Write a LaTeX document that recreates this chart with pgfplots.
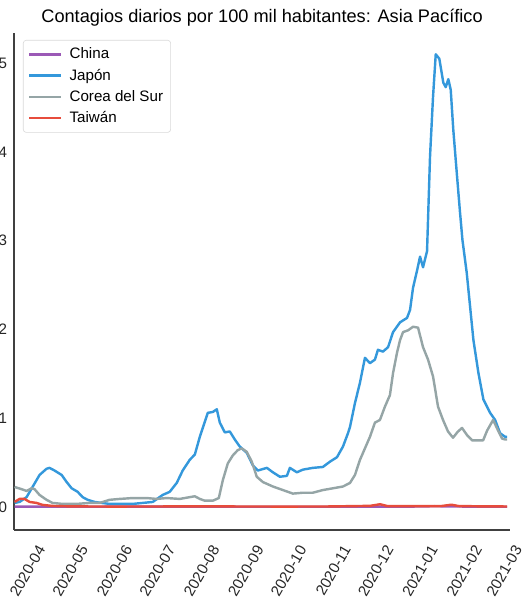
\documentclass[border=0pt]{standalone}
\usepackage{fontspec}
\setmainfont{Liberation Sans}
\usepackage{pgfplots}
\pgfplotsset{compat=1.18}
\definecolor{cChina}{HTML}{9B59B6}
\definecolor{cJapan}{HTML}{3498DB}
\definecolor{cKorea}{HTML}{95A5A6}
\definecolor{cTaiwan}{HTML}{E74C3C}
\begin{document}
\begin{tikzpicture}
\begin{axis}[
  scale only axis,
  width=327.4pt, height=328pt,
  xmin=-9.5, xmax=338.1,
  ymin=-0.26, ymax=5.34,
  axis x line*=bottom, axis y line*=left,
  axis line style={black!75, line width=0.8pt},
  major tick length=0pt,
  xtick={0,30,61,91,122,153,183,214,244,275,306,334},
  xticklabels={2020-04,2020-05,2020-06,2020-07,2020-08,2020-09,2020-10,2020-11,2020-12,2021-01,2021-02,2021-03},
  ytick={0,1,2,3,4,5},
  /pgf/number format/assume math mode=true,
  tick label style={font=\fontsize{10}{12}\selectfont, text=black!85},
  xticklabel style={inner sep=0pt, xshift=9.2pt, yshift=-11pt, rotate=60, anchor=east},
  yticklabel style={xshift=-1pt},
  title={Contagios diarios por 100 mil habitantes: Asia Pacífico},
  title style={font=\fontsize{12}{14}\selectfont, at={(0.5,1)}, anchor=south, yshift=-5pt},
  legend style={at={(0,1)}, anchor=north west, xshift=5.9pt, yshift=-4.6pt,
    font=\fontsize{10}{12}\selectfont, draw=black!15, rounded corners=2pt,
    row sep=1.2pt, inner xsep=3pt, inner ysep=3pt},
  legend cell align=left,
  legend image code/.code={\draw[#1, line width=1.6pt] (-1.5pt,0pt) -- (19.5pt,0pt);},
  every axis plot/.append style={line width=1.6pt, line join=round},
  clip=true,
]
\addplot[cChina] coordinates {
(-9.1,0.004) (10,0.003) (40,0.002) (80,0.003) (120,0.003) (160,0.002) (200,0.002)
(240,0.002) (270,0.004) (285,0.008) (300,0.005) (320,0.002) (336,0.002)
};
\addlegendentry{\hspace{3pt}China}
\addplot[cJapan] coordinates {
(-9.1,0.045) (-5.6,0.056) (-0.7,0.11) (3.5,0.225) (8.4,0.36) (13.3,0.43) (15.4,0.44)
(18.9,0.41) (23.9,0.36) (27.4,0.28) (30.9,0.21) (35.1,0.17) (38.6,0.11) (42.1,0.08)
(47.0,0.056) (51.9,0.045) (57.5,0.034) (64.5,0.034) (73.7,0.034) (80.7,0.045)
(87.7,0.056) (94.7,0.135) (99.6,0.17) (104.5,0.27) (108.7,0.41) (113.6,0.53)
(117.2,0.59) (120.7,0.79) (124.2,0.96) (126.3,1.06) (129.8,1.07) (132.6,1.10)
(134.7,0.95) (138.2,0.84) (141.7,0.85) (145.2,0.76) (148.7,0.68) (153.6,0.61)
(157.8,0.47) (161.3,0.41) (167.7,0.44) (171.9,0.39) (176.8,0.34) (181.7,0.35)
(183.8,0.44) (188.7,0.39) (192.9,0.42) (199.9,0.44) (206.9,0.45) (211.9,0.51)
(216.8,0.56) (221.0,0.68) (224.5,0.83) (225.9,0.90) (229.4,1.17) (232.9,1.40)
(236.4,1.68) (239.9,1.62) (243.4,1.66) (245.5,1.77) (249.0,1.75) (252.6,1.80)
(256.1,1.97) (261.0,2.08) (265.9,2.13) (268.0,2.22) (270.1,2.47) (273.0,2.67)
(275.0,2.82) (277.1,2.70) (279.9,2.88) (282.0,3.95) (284.1,4.62) (286.0,5.10)
(288.5,5.05) (291.3,4.78) (293.0,4.73) (294.8,4.82) (296.5,4.70) (298.3,4.25)
(300.7,3.77) (303.0,3.32) (304.7,3.01) (307.7,2.64) (312.4,1.88) (315.9,1.51)
(319.4,1.21) (324.1,1.06) (327.6,0.98) (331.1,0.83) (334.6,0.79) (336,0.79)
};
\addlegendentry{\hspace{3pt}Japón}
\addplot[cKorea] coordinates {
(-9.1,0.225) (-4.2,0.20) (-0.7,0.18) (2.8,0.21) (4.9,0.20) (8.4,0.135) (13.3,0.08)
(17.5,0.045) (24.6,0.034) (34.4,0.034) (43.5,0.045) (50.5,0.045) (57.5,0.08)
(64.5,0.09) (73.7,0.10) (83.5,0.10) (90.5,0.09) (97.5,0.10) (106.6,0.09)
(113.6,0.11) (117.2,0.12) (120.7,0.09) (124.2,0.07) (129.8,0.07) (134.0,0.10)
(136.8,0.30) (140.3,0.49) (143.8,0.58) (147.3,0.64) (150.1,0.66) (153.6,0.62)
(157.1,0.51) (160.6,0.34) (164.9,0.28) (171.9,0.23) (178.9,0.19) (185.9,0.15)
(192.9,0.16) (199.9,0.16) (206.9,0.19) (214.0,0.21) (221.0,0.23) (225.9,0.27)
(229.4,0.36) (232.9,0.53) (236.4,0.66) (239.9,0.79) (243.4,0.95) (246.9,0.98)
(250.4,1.13) (253.9,1.26) (256.1,1.51) (258.9,1.74) (261.0,1.88) (263.1,1.97)
(266.6,1.99) (270.1,2.03) (273.6,2.02) (277.1,1.80) (280.6,1.66) (284.1,1.47)
(287.6,1.13) (291.1,0.98) (294.6,0.85) (298.1,0.78) (301.6,0.85) (304.4,0.89)
(307.9,0.81) (311.5,0.75) (315.0,0.75) (319.2,0.75) (322.0,0.86) (326.2,0.98)
(329.7,0.86) (332.5,0.77) (334.6,0.76) (336,0.76)
};
\addlegendentry{\hspace{3pt}Corea del Sur}
\addplot[cTaiwan] coordinates {
(-9.1,0.056) (-5.6,0.09) (-2.1,0.09) (1.4,0.056) (6.3,0.045) (10.5,0.023)
(17.5,0.011) (30,0.006) (60,0.004) (90,0.005) (120,0.006) (150,0.005) (180,0.004)
(210,0.005) (240,0.012) (247,0.03) (252,0.01) (270,0.008) (290,0.01) (297,0.025)
(302,0.01) (320,0.006) (336,0.005)
};
\addlegendentry{\hspace{3pt}Taiwán}
\coordinate (SW) at (rel axis cs:0,0);
\coordinate (NE) at (rel axis cs:1,1);
\end{axis}
\pgfresetboundingbox
\useasboundingbox ([xshift=-9.24pt,yshift=-45.54pt]SW) rectangle ([xshift=8.58pt,yshift=21.78pt]NE);
\end{tikzpicture}
\end{document}
